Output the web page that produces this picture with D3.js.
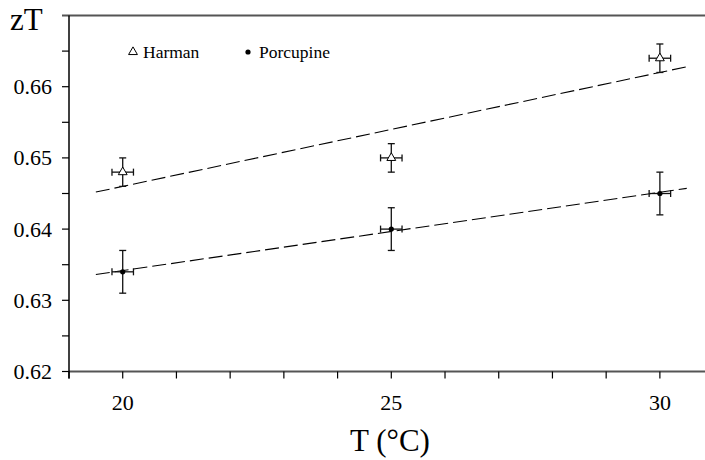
<!DOCTYPE html>
<html><head><meta charset="utf-8">
<script src="https://cdn.jsdelivr.net/npm/d3@7"></script>
<style>body{margin:0;background:#fff}svg{display:block}</style>
</head><body><svg id="c" width="705" height="460"></svg>
<script>
const temps = [20, 25, 30];
const harman = [0.648, 0.650, 0.664];
const harmanErr = [0.002, 0.002, 0.002];
const porcupine = [0.634, 0.640, 0.645];
const porcupineErr = [0.003, 0.003, 0.003];
const tempErr = [0.2, 0.2, 0.2];
const xTicks = [19, 20, 21, 22, 23, 24, 25, 26, 27, 28, 29, 30];
const xLabels = [20, 25, 30];
const yTicks = [0.62, 0.625, 0.63, 0.635, 0.64, 0.645, 0.65, 0.655, 0.66, 0.665];
const yLabels = [0.62, 0.63, 0.64, 0.65, 0.66];
const fitRange = [19.5, 30.5];

const FONT = "Liberation Serif";
const svg = d3.select("#c");
const x = d3.scaleLinear().domain([19, 30.84]).range([69, 705]);
const y = d3.scaleLinear().domain([0.62, 0.67]).range([371.5, 15.5]);

// frame lines
svg.append("line").attr("x1", 62).attr("x2", 705).attr("y1", y(0.67)).attr("y2", y(0.67)).attr("stroke", "#555").attr("stroke-width", 2);
svg.append("line").attr("x1", 69).attr("x2", 705).attr("y1", y(0.62)).attr("y2", y(0.62)).attr("stroke", "#555").attr("stroke-width", 2);
svg.append("line").attr("x1", 69).attr("x2", 69).attr("y1", y(0.67)).attr("y2", y(0.62) + 7).attr("stroke", "#000").attr("stroke-width", 1.5);

// x ticks
svg.selectAll(".xt").data(xTicks).join("line")
  .attr("x1", d => x(d)).attr("x2", d => x(d)).attr("y1", y(0.62)).attr("y2", y(0.62) + 7)
  .attr("stroke", "#000").attr("stroke-width", 1.2);
svg.selectAll(".xl").data(xLabels).join("text")
  .attr("font-family", FONT)
  .attr("x", d => x(d)).attr("y", 410).attr("text-anchor", "middle").attr("font-size", 22).text(d => String(d));

// y ticks
svg.selectAll(".yt").data(yTicks).join("line")
  .attr("x1", 62).attr("x2", 69).attr("y1", d => y(d)).attr("y2", d => y(d))
  .attr("stroke", "#000").attr("stroke-width", 1.2);
svg.selectAll(".yl").data(yLabels).join("text")
  .attr("font-family", FONT)
  .attr("x", 52).attr("y", d => y(d) + 7.5).attr("text-anchor", "end").attr("font-size", 22).text(d => d.toFixed(2));

// axis titles
svg.append("text").attr("font-family", FONT).attr("x", 10).attr("y", 30).attr("font-size", 31).text("zT");
svg.append("text").attr("font-family", FONT).attr("x", 390).attr("y", 451).attr("text-anchor", "middle").attr("font-size", 31).text("T (°C)");

// fit lines
function fit(xs, ys) {
  const mx = d3.mean(xs), my = d3.mean(ys);
  const b = d3.sum(xs, (v, i) => (v - mx) * (ys[i] - my)) / d3.sum(xs, v => (v - mx) ** 2);
  return t => my + b * (t - mx);
}
[harman, porcupine].forEach(s => {
  const f = fit(temps, s);
  svg.append("line").attr("x1", x(fitRange[0])).attr("x2", x(fitRange[1]))
    .attr("y1", y(f(fitRange[0]))).attr("y2", y(f(fitRange[1])))
    .attr("stroke", "#000").attr("stroke-width", 1.1).attr("stroke-dasharray", "14,5");
});

// error bars
function errBars(vals, errs) {
  temps.forEach((t, i) => {
    const cx = x(t), cy = y(vals[i]);
    const y1 = y(vals[i] + errs[i]), y2 = y(vals[i] - errs[i]);
    const x1 = x(t - tempErr[i]), x2 = x(t + tempErr[i]);
    const g = svg.append("g").attr("stroke", "#111").attr("stroke-width", 1.3);
    g.append("line").attr("x1", cx).attr("x2", cx).attr("y1", y1).attr("y2", y2);
    g.append("line").attr("x1", cx - 3.5).attr("x2", cx + 3.5).attr("y1", y1).attr("y2", y1);
    g.append("line").attr("x1", cx - 3.5).attr("x2", cx + 3.5).attr("y1", y2).attr("y2", y2);
    g.append("line").attr("x1", x1).attr("x2", x2).attr("y1", cy).attr("y2", cy);
    g.append("line").attr("x1", x1).attr("x2", x1).attr("y1", cy - 3.5).attr("y2", cy + 3.5);
    g.append("line").attr("x1", x2).attr("x2", x2).attr("y1", cy - 3.5).attr("y2", cy + 3.5);
  });
}
errBars(harman, harmanErr);
errBars(porcupine, porcupineErr);

const tri = d3.symbol().type(d3.symbolTriangle).size(34);
svg.selectAll(".h").data(temps).join("path")
  .attr("transform", (d, i) => `translate(${x(d)},${y(harman[i])})`)
  .attr("d", tri).attr("fill", "#fff").attr("stroke", "#000").attr("stroke-width", 1);
svg.selectAll(".p").data(temps).join("circle")
  .attr("cx", d => x(d)).attr("cy", (d, i) => y(porcupine[i])).attr("r", 2.6).attr("fill", "#000");

// legend
svg.append("path").attr("transform", "translate(133,52)").attr("d", tri).attr("fill", "#fff").attr("stroke", "#000").attr("stroke-width", 1);
svg.append("text").attr("font-family", FONT).attr("x", 143).attr("y", 58).attr("font-size", 17.5).text("Harman");
svg.append("circle").attr("cx", 248).attr("cy", 52).attr("r", 2.6).attr("fill", "#000");
svg.append("text").attr("font-family", FONT).attr("x", 259).attr("y", 58).attr("font-size", 17.5).text("Porcupine");
</script></body></html>
